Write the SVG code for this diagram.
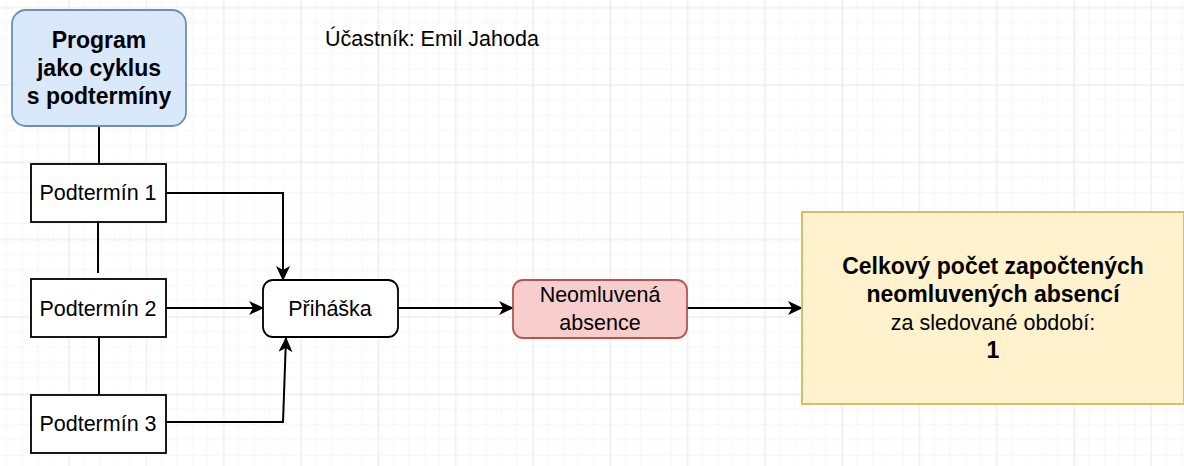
<svg xmlns="http://www.w3.org/2000/svg" width="1184" height="466" viewBox="0 0 1184 466">
<defs>
<pattern id="minor" x="7.2" y="7.5" width="15.46" height="15.46" patternUnits="userSpaceOnUse">
<path d="M15.46,0 V15.46 M0,15.46 H15.46" fill="none" stroke="#f0f0f0" stroke-width="1"/>
</pattern>
<pattern id="major" x="69" y="7.5" width="77.3" height="77.3" patternUnits="userSpaceOnUse">
<path d="M0,0 V77.3 M0,0 H77.3" fill="none" stroke="#dedede" stroke-width="1"/>
</pattern>
<marker id="arr" markerUnits="userSpaceOnUse" markerWidth="16" markerHeight="14" refX="14" refY="7" orient="auto">
<path d="M0,0 L15,7 L0,14 L4,7 Z" fill="#000"/>
</marker>
<style>
.t{font-family:"Liberation Sans",Arial,sans-serif;font-size:21.5px;fill:#000;text-anchor:middle}
.b{font-weight:bold;font-size:23px}
.box{fill:#fff;stroke:#000;stroke-width:1.8}
.c{fill:none;stroke:#000;stroke-width:2}
</style>
</defs>
<rect width="1184" height="466" fill="#fff"/>
<rect width="1184" height="466" fill="url(#minor)"/>
<rect width="1184" height="466" fill="url(#major)"/>

<g id="connectors">
<path class="c" d="M99,126 V164"/>
<path class="c" d="M98,222 V273"/>
<path class="c" d="M99,337 V395"/>
<path class="c" d="M166,193 H283 V280" marker-end="url(#arr)"/>
<path class="c" d="M166,308 H263" marker-end="url(#arr)"/>
<path class="c" d="M166,422 H283 L286,338" marker-end="url(#arr)"/>
<path class="c" d="M398,308 H513" marker-end="url(#arr)"/>
<path class="c" d="M687,308 H802" marker-end="url(#arr)"/>
</g>

<g id="program">
<rect x="12" y="10" width="174" height="116" rx="14" fill="#dae8fc" stroke="#6c8ebf" stroke-width="1.8"/>
<text class="t b" x="99" y="48">Program</text>
<text class="t b" x="99" y="76">jako cyklus</text>
<text class="t b" x="99" y="104">s podtermíny</text>
</g>

<g id="ucastnik">
<text class="t" x="325" y="46" style="text-anchor:start">Účastník: Emil Jahoda</text>
</g>

<g id="podtermin1">
<rect class="box" x="31" y="164" width="135" height="58"/>
<text class="t" x="98" y="200">Podtermín 1</text>
</g>
<g id="podtermin2">
<rect class="box" x="31" y="279" width="135" height="58"/>
<text class="t" x="98" y="316">Podtermín 2</text>
</g>
<g id="podtermin3">
<rect class="box" x="31" y="395" width="135" height="58"/>
<text class="t" x="98" y="431">Podtermín 3</text>
</g>

<g id="prihaska">
<rect class="box" x="263" y="280" width="135" height="57" rx="10"/>
<text class="t" x="330" y="316">Přiháška</text>
</g>

<g id="neomluvena">
<rect x="513" y="280" width="174" height="58" rx="10" fill="#f8cecc" stroke="#b85450" stroke-width="1.8"/>
<text class="t" x="600" y="302">Neomluvená</text>
<text class="t" x="600" y="330">absence</text>
</g>

<g id="celkovy">
<rect x="802" y="212" width="382" height="192" fill="#fff2cc" stroke="#d6b656" stroke-width="1.8"/>
<text class="t b" x="993" y="274">Celkový počet započtených</text>
<text class="t b" x="993" y="302">neomluvených absencí</text>
<text class="t" x="993" y="330">za sledované období:</text>
<text class="t b" x="993" y="358">1</text>
</g>
</svg>
